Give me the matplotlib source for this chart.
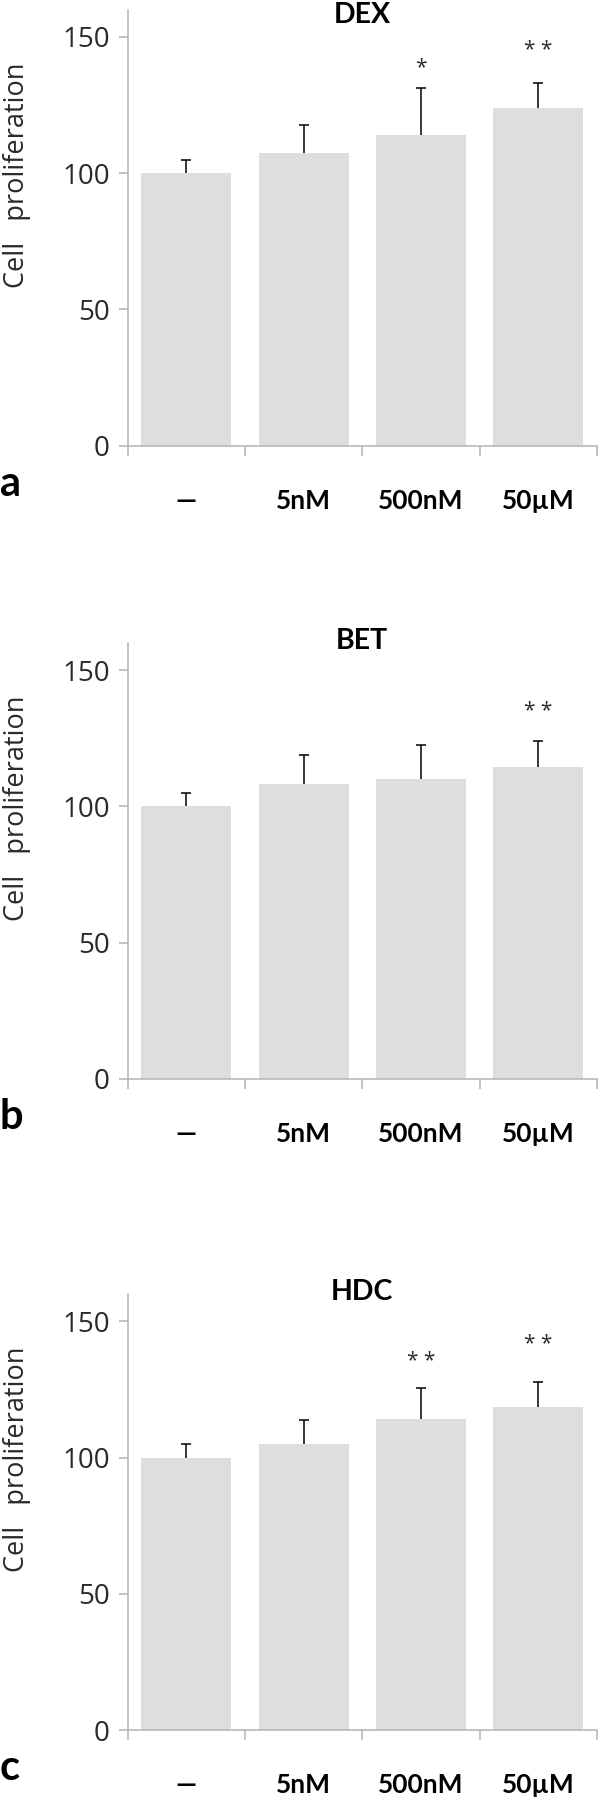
import numpy as np
import matplotlib
matplotlib.use("Agg")
import matplotlib.pyplot as plt

plt.rcParams['font.family'] = ['Open Sans', 'DejaVu Sans']
bold_font = ['Lato', 'DejaVu Sans']

# data
categories = ['—', '5nM', '500nM', '50µM']
panel_names = ['DEX', 'BET', 'HDC']
panel_letters = ['a', 'b', 'c']

dex_mean = [100, 107.6, 114.0, 124.0]
dex_err = [5.0, 10.2, 17.2, 9.1]
bet_mean = [100, 108.4, 110.1, 114.3]
bet_err = [4.9, 10.4, 12.5, 9.6]
hdc_mean = [100, 104.9, 114.0, 118.5]
hdc_err = [5.1, 8.9, 11.5, 9.1]

dex_stars = ['', '', '*', '**']
dex_star_y = [0, 0, 138.9, 145.0]
bet_stars = ['', '', '', '**']
bet_star_y = [0, 0, 0, 134.7]
hdc_stars = ['', '', '**', '**']
hdc_star_y = [0, 0, 135.1, 141.5]

means = [dex_mean, bet_mean, hdc_mean]
errs = [dex_err, bet_err, hdc_err]
stars = [dex_stars, bet_stars, hdc_stars]
star_ys = [dex_star_y, bet_star_y, hdc_star_y]

bar_color = '#dedede'
axis_color = '#b4b4b4'
text_color = '#2a2a2a'

fig = plt.figure(figsize=(6.0, 18.01), dpi=100)
bottoms = [0.7525, 0.4009, 0.0394]
x = np.arange(len(categories))

for i in range(3):
    ax = fig.add_axes([0.2127, bottoms[i], 0.7823, 0.2421])
    ax.bar(x, means[i], width=0.766, color=bar_color, zorder=2)
    # one-sided (upper) error bars, hide the lower cap
    eb = ax.errorbar(x, means[i], yerr=[np.zeros(len(x)), errs[i]], fmt='none',
                     ecolor='black', elinewidth=1.1, capsize=3.8, capthick=1.1, zorder=3)
    eb[1][0].set_visible(False)
    for xi, s, sy in zip(x, stars[i], star_ys[i]):
        if s:
            ax.text(xi, sy, s.replace('**', '* *'), ha='center', va='center',
                    fontsize=15, color=text_color)

    ax.set_xlim(-0.5, 3.5)
    ax.set_ylim(0, 160)
    ax.set_yticks([0, 50, 100, 150])
    ax.set_xticks(np.arange(-0.5, 4.0, 1.0))
    ax.set_xticklabels([])
    ax.set_xticks(x, minor=True)
    ax.set_xticklabels(categories, minor=True, fontsize=19, fontweight='bold',
                       family=bold_font)
    ax.tick_params(axis='x', which='minor', length=0, pad=31, colors='black')
    ax.tick_params(axis='x', which='major', length=7.2, width=1.1, color=axis_color)
    ax.tick_params(axis='y', length=6.5, width=1.1, color=axis_color, pad=6.5,
                   labelsize=20, labelcolor=text_color)

    for side in ['top', 'right']:
        ax.spines[side].set_visible(False)
    for side in ['left', 'bottom']:
        ax.spines[side].set_color(axis_color)
        ax.spines[side].set_linewidth(1.1)

    ax.set_ylabel('Cell   proliferation', fontsize=19.5, color=text_color)
    ax.yaxis.set_label_coords(-0.205, 0.62)

    title_y = 158 if i == 0 else 160.7
    ax.text(1.5, title_y, panel_names[i], ha='center', va='center', fontsize=20.5,
            fontweight='bold', family=bold_font, color='black')
    ax.text(-0.272, -0.115, panel_letters[i], transform=ax.transAxes, ha='left',
            va='baseline', fontsize=30, fontweight='bold', family=bold_font,
            color='black')

fig.savefig('out.png', dpi=100)
